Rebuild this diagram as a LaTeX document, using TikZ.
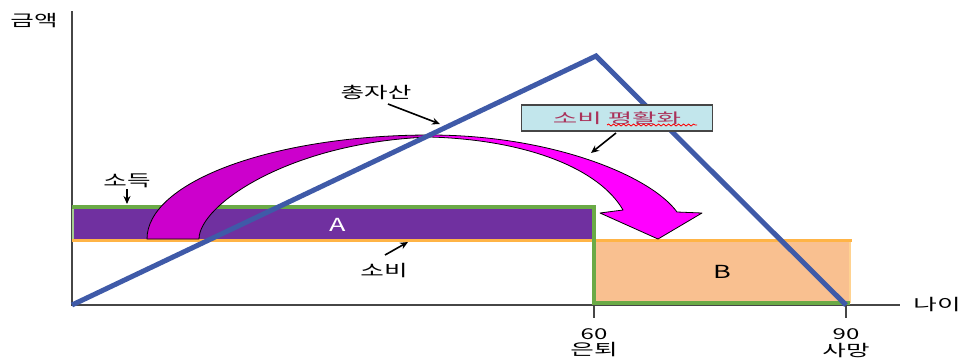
\documentclass[tikz,border=0pt]{standalone}
\usepackage{fontspec}
\setmainfont{Noto Sans CJK KR}
\usetikzlibrary{arrows.meta,decorations.pathmorphing}
\definecolor{tblue}{RGB}{63,90,168}
\definecolor{tgreen}{RGB}{106,170,70}
\definecolor{tpurple}{RGB}{112,48,160}
\definecolor{torange}{RGB}{255,180,70}
\definecolor{tpeach}{RGB}{249,192,144}
\definecolor{magdark}{RGB}{204,0,204}
\definecolor{magbright}{RGB}{255,0,255}
\definecolor{boxfill}{RGB}{194,230,236}
\definecolor{boxtext}{RGB}{170,50,90}
\definecolor{axisgray}{RGB}{70,70,70}
\newcommand\stretchtxt[2][1.6]{\scalebox{#1}[1]{#2}}
\tikzset{
  axisline/.style={draw=axisgray, line width=0.75pt},
  lbl/.style={inner sep=1pt, font=\fontsize{8}{9}\selectfont},
  numlbl/.style={inner sep=1pt, font=\fontsize{7.5}{8}\selectfont},
  arr/.style={draw=black, line width=0.8pt, -{Stealth[length=4pt,width=3.5pt]}},
  magshape/.style={draw=black, line width=0.4pt, line join=round},
}
\begin{document}
\begin{tikzpicture}[x=0.5pt,y=-0.5pt]
\useasboundingbox (0,0) rectangle (968,360);
% axes
\draw[axisline] (72,11) -- (72,305) -- (900,305);
\draw[axisline] (594,305) -- (594,318);
\draw[axisline] (846,305) -- (846,318);
% areas
\fill[tpeach] (594,241) rectangle (850,303);
\draw[torange!60, line width=0.6pt] (850,241) -- (850,303);
\fill[tpurple] (73,209) rectangle (592,239);
\draw[torange, line width=1.5pt] (72,240) -- (852,240);
\draw[tgreen!60, line width=0.6pt] (73,207) -- (73,239);
\draw[tgreen, line width=2pt] (72,207) -- (594,207) -- (594,303) -- (850,303);
% magenta curved arrow
\draw[magshape, fill=magdark] (147,239) .. controls (147,181.6) and (273.7,135) .. (430,135)
  -- (430,137) .. controls (290,142) and (199,205) .. (199,239) -- cycle;
\draw[magshape, fill=magbright] (430,135) .. controls (550,135) and (650,175) .. (677,212)
  -- (702,213) -- (658,239) -- (600,213) -- (623,210)
  .. controls (600,170) and (530,140) .. (430,137) -- cycle;
% total assets line
\draw[tblue, line width=2.5pt, line join=miter] (72,305) -- (596,56) -- (846,305);
% labels
\node[lbl] (geumaek) at (34,21) {\stretchtxt{금액}};
\node[lbl] (nai) at (937,305) {\stretchtxt{나이}};
\node[numlbl] (n60) at (594,334) {\stretchtxt{60}};
\node[lbl] (euntoe) at (594,350) {\stretchtxt{은퇴}};
\node[numlbl] (n90) at (846,334) {\stretchtxt{90}};
\node[lbl] (samang) at (846,350) {\stretchtxt{사망}};
\node[lbl, font=\fontsize{9}{10}\selectfont, text=white] (A) at (338,225) {\stretchtxt[1.5]{A}};
\node[lbl, font=\fontsize{9}{10}\selectfont] (B) at (722,272) {\stretchtxt[1.5]{B}};
\node[lbl] (chong) at (376,92) {\stretchtxt{총자산}};
\node[lbl] (sodeuk) at (127,181) {\stretchtxt{소득}};
\node[lbl] (sobi) at (384,271) {\stretchtxt{소비}};
\node[draw=axisgray, line width=0.6pt, fill=boxfill, minimum width=95.5pt, minimum height=13pt, inner sep=0pt,
  text=boxtext, font=\fontsize{7}{8}\selectfont] (smooth) at (617,118) {\stretchtxt[1.9]{소비 평활화}};
\draw[red, line width=0.4pt, decorate, decoration={snake, amplitude=0.5pt, segment length=2.5pt}] (607,125) -- (697,125);
% arrows
\coordinate (sodeukS) at (127,189);
\coordinate (sodeukE) at (127,204);
\coordinate (chongS) at (388,104);
\coordinate (chongE) at (440,124);
\coordinate (sobiS) at (385,255);
\coordinate (sobiE) at (408,242);
\coordinate (smoothS) at (616,133);
\coordinate (smoothE) at (591,153);
\draw[arr] (sodeukS) -- (sodeukE);
\draw[arr] (chongS) -- (chongE);
\draw[arr] (sobiS) -- (sobiE);
\draw[arr] (smoothS) -- (smoothE);
\end{tikzpicture}
\end{document}
